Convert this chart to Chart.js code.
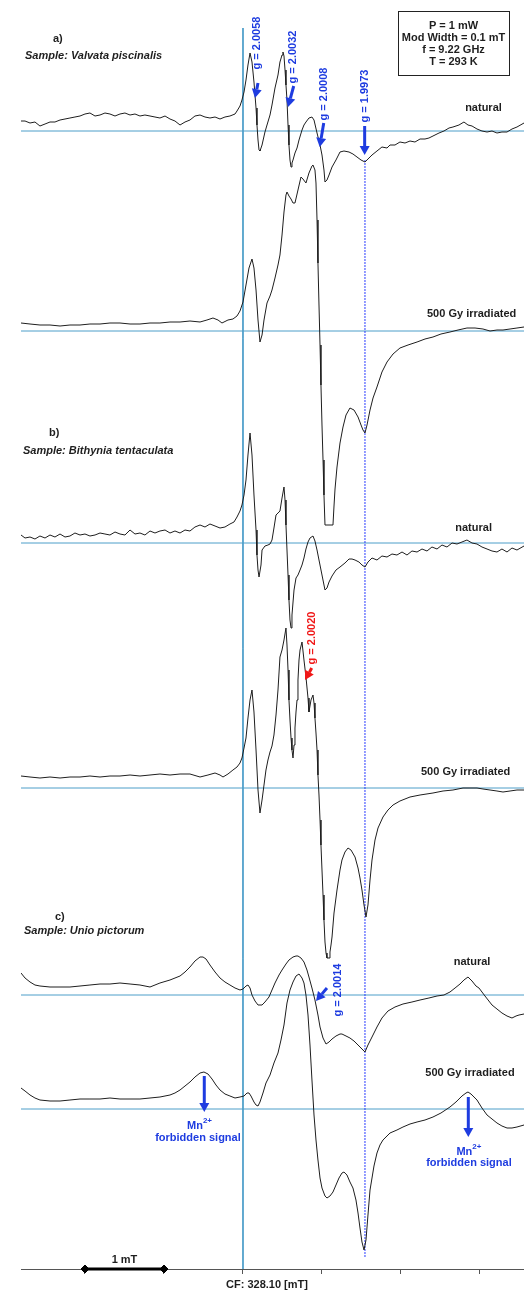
<!DOCTYPE html>
<html>
<head>
<meta charset="utf-8">
<title>EPR spectra</title>
<script src="https://cdn.jsdelivr.net/npm/chart.js@4/dist/chart.umd.min.js"></script>
<style>
  html, body { margin: 0; padding: 0; background: #fff; }
  canvas { display: block; }
</style>
</head>
<body>
<canvas id="epr" width="524" height="1291"></canvas>
<script>
// ---- axis ----
const fieldMin = 325.29, fieldMax = 331.657;
const centerField = 328.10;
const tickFields = [326.10, 327.10, 328.10, 329.10, 330.10, 331.10];
const scaleBarFields = [326.10, 327.10];
const markerField = 329.644; // g = 1.9973 dotted line

// ---- spectra: [field mT, signal a.u.] ----
const aNatural = [[325.290,10],[325.341,10],[325.404,8],[325.467,9],[325.530,5],[325.594,7],[325.657,9],[325.720,9],[325.784,11],[325.847,12],[325.910,13],[325.973,14],[326.037,15],[326.100,17],[326.163,18],[326.227,15],[326.290,16],[326.353,18],[326.416,17],[326.480,15],[326.543,17],[326.606,18],[326.670,16],[326.733,17],[326.796,15],[326.859,16],[326.923,15],[326.986,14],[327.049,13],[327.113,15],[327.176,12],[327.239,10],[327.303,6],[327.366,9],[327.429,11],[327.492,15],[327.556,16],[327.619,14],[327.682,13],[327.746,14],[327.809,12],[327.872,14],[327.935,15],[327.999,17],[328.024,20],[328.062,25],[328.087,31],[328.113,39],[328.138,51],[328.163,66],[328.189,78],[328.214,69],[328.239,49],[328.265,23],[328.277,6],[328.290,-9],[328.303,-19],[328.315,-20],[328.341,-14],[328.378,-1],[328.404,6],[328.442,16],[328.467,26],[328.505,43],[328.543,56],[328.568,69],[328.594,76],[328.606,79],[328.619,75],[328.632,61],[328.644,46],[328.657,31],[328.670,6],[328.682,-14],[328.695,-29],[328.708,-36],[328.720,-32],[328.733,-29],[328.758,-22],[328.784,-17],[328.809,-9],[328.847,1],[328.872,6],[328.897,9],[328.935,13],[328.973,14],[328.999,11],[329.037,-2],[329.075,-14],[329.100,-24],[329.125,-39],[329.138,-51],[329.163,-49],[329.189,-44],[329.227,-36],[329.277,-29],[329.328,-21],[329.378,-20],[329.442,-21],[329.492,-23],[329.543,-26],[329.594,-29],[329.644,-31],[329.682,-28],[329.733,-24],[329.796,-20],[329.859,-16],[329.923,-17],[329.961,-14],[330.024,-14],[330.087,-11],[330.151,-12],[330.214,-10],[330.277,-11],[330.341,-8],[330.404,-8],[330.454,-7],[330.505,-5],[330.581,-2],[330.644,0],[330.708,3],[330.758,4],[330.834,6],[330.897,9],[330.948,6],[330.999,5],[331.062,2],[331.125,0],[331.189,-1],[331.252,0],[331.315,-2],[331.378,-1],[331.442,-1],[331.505,2],[331.568,4],[331.657,8]];

const aIrradiated = [[325.290,8],[325.404,7],[325.530,6],[325.657,6],[325.784,5],[325.910,6],[326.037,6],[326.163,7],[326.290,7],[326.416,8],[326.543,8],[326.670,7],[326.796,7],[326.923,8],[327.049,8],[327.176,9],[327.303,9],[327.429,10],[327.556,9],[327.644,11],[327.720,13],[327.784,11],[327.834,8],[327.910,11],[327.973,12],[328.024,15],[328.062,20],[328.100,29],[328.138,46],[328.176,63],[328.214,72],[328.239,63],[328.265,41],[328.290,11],[328.315,-11],[328.341,-4],[328.366,11],[328.404,28],[328.442,35],[328.467,41],[328.505,53],[328.543,66],[328.568,76],[328.594,96],[328.619,119],[328.644,136],[328.657,139],[328.682,135],[328.708,132],[328.733,128],[328.758,128],[328.796,141],[328.834,154],[328.859,152],[328.897,148],[328.935,158],[328.973,165],[328.986,166],[329.011,161],[329.024,148],[329.037,111],[329.049,68],[329.062,26],[329.075,-14],[329.087,-54],[329.100,-94],[329.113,-129],[329.125,-164],[329.138,-194],[329.239,-194],[329.252,-175],[329.265,-158],[329.290,-136],[329.328,-112],[329.366,-96],[329.404,-84],[329.454,-77],[329.505,-79],[329.556,-86],[329.594,-94],[329.619,-99],[329.644,-102],[329.670,-94],[329.708,-79],[329.746,-67],[329.796,-56],[329.859,-41],[329.923,-31],[329.999,-23],[330.087,-17],[330.189,-14],[330.303,-11],[330.404,-8],[330.505,-6],[330.606,-3],[330.720,-1],[330.822,1],[330.935,3],[331.037,3],[331.138,2],[331.227,0],[331.315,1],[331.391,1],[331.480,2],[331.568,3],[331.657,4]];

const bNatural = [[325.290,8],[325.341,5],[325.404,6],[325.467,4],[325.530,7],[325.594,5],[325.657,8],[325.720,6],[325.784,9],[325.847,6],[325.910,7],[325.973,10],[326.037,8],[326.100,9],[326.163,7],[326.227,8],[326.290,10],[326.353,9],[326.416,8],[326.480,11],[326.543,9],[326.606,8],[326.670,13],[326.733,9],[326.796,10],[326.859,8],[326.923,12],[326.986,10],[327.049,12],[327.113,13],[327.176,10],[327.239,12],[327.303,10],[327.366,13],[327.429,12],[327.492,16],[327.556,18],[327.619,16],[327.682,19],[327.746,17],[327.809,15],[327.872,16],[327.935,19],[327.986,21],[328.024,26],[328.062,32],[328.087,38],[328.113,48],[328.138,63],[328.163,88],[328.189,110],[328.214,88],[328.239,48],[328.265,13],[328.277,-12],[328.290,-27],[328.303,-34],[328.328,-22],[328.341,-7],[328.378,-3],[328.416,-2],[328.442,-1],[328.467,3],[328.492,15],[328.518,28],[328.543,30],[328.568,32],[328.594,45],[328.619,56],[328.632,43],[328.644,18],[328.657,-7],[328.670,-32],[328.682,-57],[328.695,-77],[328.708,-85],[328.720,-72],[328.746,-47],[328.771,-35],[328.796,-32],[328.822,-27],[328.847,-22],[328.872,-15],[328.897,-6],[328.923,1],[328.948,5],[328.986,7],[329.011,2],[329.037,-7],[329.062,-17],[329.100,-32],[329.138,-47],[329.163,-45],[329.189,-39],[329.227,-33],[329.277,-27],[329.328,-24],[329.391,-20],[329.442,-16],[329.480,-16],[329.518,-17],[329.568,-19],[329.606,-22],[329.644,-24],[329.682,-19],[329.733,-15],[329.796,-17],[329.859,-13],[329.923,-14],[329.986,-11],[330.049,-12],[330.113,-9],[330.176,-12],[330.239,-8],[330.303,-9],[330.366,-6],[330.429,-8],[330.492,-4],[330.556,-6],[330.619,-2],[330.682,-4],[330.746,0],[330.809,-1],[330.872,1],[330.935,3],[330.999,0],[331.062,-1],[331.125,-4],[331.189,-6],[331.252,-8],[331.315,-9],[331.378,-6],[331.442,-9],[331.505,-5],[331.568,-7],[331.657,-3]];

const bIrradiated = [[325.290,12],[325.404,11],[325.530,10],[325.657,11],[325.784,10],[325.910,11],[326.037,11],[326.163,12],[326.290,11],[326.416,12],[326.543,12],[326.670,13],[326.796,12],[326.923,13],[327.049,14],[327.176,13],[327.303,14],[327.429,14],[327.556,11],[327.657,13],[327.746,15],[327.809,13],[327.847,11],[327.910,14],[327.973,18],[328.024,21],[328.062,25],[328.087,30],[328.113,40],[328.138,50],[328.163,70],[328.189,88],[328.214,98],[328.239,76],[328.265,38],[328.290,-2],[328.315,-25],[328.341,-12],[328.366,3],[328.391,18],[328.416,28],[328.442,36],[328.467,42],[328.492,53],[328.518,73],[328.543,98],[328.568,131],[328.594,138],[328.619,148],[328.644,160],[328.657,143],[328.670,118],[328.682,88],[328.695,68],[328.708,50],[328.720,38],[328.733,30],[328.746,43],[328.758,60],[328.771,76],[328.784,88],[328.796,108],[328.809,128],[328.822,138],[328.847,146],[328.872,128],[328.897,111],[328.923,90],[328.935,76],[328.961,88],[328.986,93],[328.999,85],[329.011,70],[329.024,55],[329.037,38],[329.049,13],[329.062,-7],[329.075,-32],[329.087,-57],[329.100,-82],[329.113,-107],[329.125,-132],[329.138,-154],[329.151,-165],[329.163,-170],[329.189,-170],[329.201,-164],[329.214,-157],[329.227,-149],[329.252,-125],[329.290,-102],[329.328,-82],[329.353,-72],[329.391,-64],[329.429,-60],[329.467,-62],[329.518,-69],[329.556,-80],[329.581,-90],[329.606,-102],[329.632,-117],[329.657,-129],[329.682,-117],[329.708,-92],[329.733,-72],[329.771,-52],[329.809,-40],[329.872,-29],[329.935,-22],[329.999,-17],[330.087,-13],[330.214,-9],[330.341,-7],[330.505,-5],[330.632,-3],[330.758,-2],[330.885,0],[330.973,0],[331.062,0],[331.138,-1],[331.227,-2],[331.315,-3],[331.391,-4],[331.480,-3],[331.568,-2],[331.657,-2]];

const cNatural = [[325.290,22],[325.341,17],[325.404,13],[325.467,10],[325.530,9],[325.657,8],[325.784,8],[325.910,8],[326.037,9],[326.163,10],[326.290,11],[326.416,11],[326.543,12],[326.670,11],[326.796,10],[326.923,8],[327.049,12],[327.176,15],[327.303,19],[327.366,23],[327.429,28],[327.492,34],[327.556,38],[327.594,38],[327.632,36],[327.682,30],[327.746,23],[327.809,17],[327.872,13],[327.935,10],[327.999,7],[328.062,5],[328.100,6],[328.138,9],[328.163,10],[328.189,7],[328.214,0],[328.252,-6],[328.290,-10],[328.341,-10],[328.378,-7],[328.429,-2],[328.467,5],[328.505,12],[328.556,20],[328.594,25],[328.644,31],[328.682,35],[328.733,38],[328.771,39],[328.796,39],[328.834,37],[328.872,33],[328.910,25],[328.935,18],[328.973,7],[329.011,-5],[329.049,-20],[329.075,-32],[329.113,-43],[329.151,-49],[329.189,-47],[329.227,-44],[329.277,-41],[329.328,-39],[329.353,-39],[329.404,-41],[329.454,-43],[329.505,-46],[329.556,-50],[329.606,-54],[329.644,-57],[329.682,-50],[329.733,-42],[329.796,-32],[329.859,-23],[329.935,-16],[330.024,-12],[330.125,-9],[330.239,-7],[330.341,-5],[330.454,-3],[330.556,-1],[330.644,0],[330.720,3],[330.784,7],[330.847,11],[330.897,15],[330.948,18],[330.999,14],[331.049,9],[331.087,7],[331.163,-1],[331.252,-10],[331.315,-14],[331.378,-18],[331.442,-21],[331.505,-23],[331.556,-21],[331.594,-20],[331.657,-19]];

const cIrradiated = [[325.290,21],[325.341,18],[325.404,14],[325.467,11],[325.530,9],[325.657,8],[325.784,8],[325.910,9],[326.037,10],[326.163,10],[326.290,10],[326.416,11],[326.543,10],[326.670,10],[326.796,10],[326.923,11],[327.049,12],[327.176,14],[327.239,16],[327.303,19],[327.366,23],[327.429,27],[327.492,32],[327.556,36],[327.606,37],[327.657,35],[327.708,30],[327.758,24],[327.809,19],[327.872,15],[327.935,13],[327.999,11],[328.062,12],[328.113,13],[328.151,16],[328.176,16],[328.201,13],[328.239,7],[328.265,4],[328.290,3],[328.315,7],[328.353,16],[328.391,26],[328.442,34],[328.492,46],[328.543,56],[328.581,69],[328.619,84],[328.657,106],[328.695,119],[328.733,127],[328.771,133],[328.809,135],[328.847,131],[328.872,126],[328.897,114],[328.923,94],[328.948,64],[328.973,29],[328.999,-6],[329.024,-31],[329.049,-51],[329.075,-69],[329.100,-79],[329.138,-87],[329.163,-89],[329.201,-87],[329.239,-83],[329.277,-76],[329.315,-69],[329.353,-64],[329.378,-63],[329.416,-66],[329.454,-73],[329.492,-79],[329.530,-91],[329.556,-104],[329.581,-119],[329.606,-133],[329.632,-141],[329.657,-131],[329.682,-106],[329.708,-81],[329.733,-69],[329.758,-57],[329.796,-44],[329.834,-36],[329.872,-31],[329.961,-24],[330.049,-21],[330.125,-18],[330.214,-15],[330.303,-13],[330.404,-11],[330.505,-8],[330.606,-4],[330.720,2],[330.796,7],[330.872,13],[330.923,16],[330.948,17],[330.986,15],[331.024,12],[331.062,9],[331.125,1],[331.189,-6],[331.252,-10],[331.315,-14],[331.378,-17],[331.442,-19],[331.505,-19],[331.568,-18],[331.657,-16]];

// vertical stacking of the six spectra (baseline of each, a.u.)
const traces = [aNatural, aIrradiated, bNatural, bIrradiated, cNatural, cIrradiated];
const traceOffsets = [1138, 938, 726, 481, 274, 160];
const yMax = 1269;

// ---- styling ----
const INK = '#1e1e1e', TEAL = '#4d9ec9', BLUE = '#1e3ce0', RED = '#f01818';
const FONT = 'Arial, "Liberation Sans", sans-serif';

const datasets = [];
traces.forEach((tr, i) => {
  datasets.push({
    data: tr.map(([b, s]) => ({ x: b, y: traceOffsets[i] + s })),
    borderColor: INK, borderWidth: 1, pointRadius: 0, order: 0
  });
});
traceOffsets.forEach(off => {
  datasets.push({
    data: [{ x: fieldMin, y: off }, { x: fieldMax, y: off }],
    borderColor: TEAL, borderWidth: 1, pointRadius: 0, order: 2
  });
});
datasets.push({
  data: [{ x: centerField, y: 1241 }, { x: centerField, y: 0 }],
  borderColor: TEAL, borderWidth: 1, pointRadius: 0, order: 2
});
datasets.push({
  data: [{ x: markerField, y: 1109 }, { x: markerField, y: 11 }],
  borderColor: '#2a3cff', borderWidth: 1, borderDash: [2, 1], pointRadius: 0, order: 1
});
datasets.push({
  data: scaleBarFields.map(b => ({ x: b, y: 0 })),
  borderColor: '#000', backgroundColor: '#000', borderWidth: 3,
  pointStyle: 'rectRot', pointRadius: 4, pointBorderWidth: 1, clip: false, order: 0
});

// ---- annotations (field, a.u.) ----
const texts = [
  { t: 'a)', x: 325.695, y: 1230, align: 'left' },
  { t: 'Sample: Valvata piscinalis', x: 325.341, y: 1213, align: 'left', italic: true },
  { t: 'natural', x: 331.144, y: 1161 },
  { t: '500 Gy irradiated', x: 330.994, y: 955 },
  { t: 'b)', x: 325.644, y: 836, align: 'left' },
  { t: 'Sample: Bithynia tentaculata', x: 325.315, y: 818, align: 'left', italic: true },
  { t: 'natural', x: 331.019, y: 741 },
  { t: '500 Gy irradiated', x: 330.918, y: 497 },
  { t: 'c)', x: 325.720, y: 352, align: 'left' },
  { t: 'Sample: Unio pictorum', x: 325.328, y: 338, align: 'left', italic: true },
  { t: 'natural', x: 330.999, y: 307 },
  { t: '500 Gy irradiated', x: 330.973, y: 196 },
  { t: '1 mT', x: 326.60, y: 9 },
  { t: 'forbidden signal', x: 327.530, y: 131, color: BLUE },
  { t: 'forbidden signal', x: 330.960, y: 106, color: BLUE }
];
const ionLabels = [ { x: 327.550, y: 143 }, { x: 330.960, y: 117 } ];
const gLabels = [
  { t: 'g = 2.0058', x: 328.277, y: 1226, color: BLUE },
  { t: 'g = 2.0032', x: 328.733, y: 1212, color: BLUE },
  { t: 'g = 2.0008', x: 329.122, y: 1175, color: BLUE },
  { t: 'g = 1.9973', x: 329.640, y: 1173, color: BLUE },
  { t: 'g = 2.0020', x: 328.973, y: 631, color: RED },
  { t: 'g = 2.0014', x: 329.303, y: 279, color: BLUE }
];
const arrows = [
  { x1: 328.290, y1: 1186, x2: 328.252, y2: 1171, color: BLUE },
  { x1: 328.742, y1: 1183, x2: 328.670, y2: 1162, color: BLUE },
  { x1: 329.122, y1: 1146, x2: 329.071, y2: 1122, color: BLUE },
  { x1: 329.640, y1: 1143, x2: 329.640, y2: 1114, color: BLUE },
  { x1: 328.970, y1: 601, x2: 328.885, y2: 589, color: RED },
  { x1: 329.163, y1: 281, x2: 329.024, y2: 268, color: BLUE },
  { x1: 327.610, y1: 193, x2: 327.610, y2: 157, color: BLUE },
  { x1: 330.952, y1: 172, x2: 330.952, y2: 132, color: BLUE }
];
const infoBox = { x1: 330.062, x2: 331.467, y1: 1258, y2: 1194 };
const infoLines = [
  { t: 'P = 1 mW', y: 1243 }, { t: 'Mod Width = 0.1 mT', y: 1231 },
  { t: 'f = 9.22 GHz', y: 1219 }, { t: 'T = 293 K', y: 1207 }
];

const annotate = {
  id: 'annotate',
  afterDatasetsDraw(chart) {
    const { ctx, scales: { x, y } } = chart;
    const px = v => x.getPixelForValue(v), py = v => y.getPixelForValue(v);
    ctx.save();
    ctx.textBaseline = 'middle';
    texts.forEach(l => {
      ctx.font = (l.italic ? 'italic ' : '') + 'bold 11px ' + FONT;
      ctx.fillStyle = l.color || INK;
      ctx.textAlign = l.align || 'center';
      ctx.fillText(l.t, px(l.x), py(l.y));
    });
    ionLabels.forEach(l => {
      ctx.fillStyle = BLUE;
      ctx.font = 'bold 11px ' + FONT;
      const w1 = ctx.measureText('Mn').width;
      ctx.font = 'bold 8px ' + FONT;
      const w2 = ctx.measureText('2+').width;
      const left = px(l.x) - (w1 + w2) / 2;
      ctx.textAlign = 'left';
      ctx.font = 'bold 11px ' + FONT;
      ctx.fillText('Mn', left, py(l.y));
      ctx.font = 'bold 8px ' + FONT;
      ctx.fillText('2+', left + w1, py(l.y) - 5);
    });
    gLabels.forEach(l => {
      ctx.save();
      ctx.translate(px(l.x), py(l.y));
      ctx.rotate(-Math.PI / 2);
      ctx.font = 'bold 11px ' + FONT;
      ctx.fillStyle = l.color;
      ctx.textAlign = 'center';
      ctx.fillText(l.t, 0, 0);
      ctx.restore();
    });
    arrows.forEach(a => {
      const x1 = px(a.x1), y1 = py(a.y1), x2 = px(a.x2), y2 = py(a.y2);
      const ang = Math.atan2(y2 - y1, x2 - x1);
      const hl = 9, hw = 5;
      const bx = x2 - hl * Math.cos(ang), by = y2 - hl * Math.sin(ang);
      ctx.strokeStyle = a.color; ctx.fillStyle = a.color;
      ctx.lineWidth = 3;
      ctx.beginPath(); ctx.moveTo(x1, y1); ctx.lineTo(bx, by); ctx.stroke();
      ctx.beginPath();
      ctx.moveTo(x2, y2);
      ctx.lineTo(bx + hw * Math.sin(ang), by - hw * Math.cos(ang));
      ctx.lineTo(bx - hw * Math.sin(ang), by + hw * Math.cos(ang));
      ctx.closePath(); ctx.fill();
    });
    // info box
    const bx1 = px(infoBox.x1), bx2 = px(infoBox.x2), by1 = py(infoBox.y1), by2 = py(infoBox.y2);
    ctx.fillStyle = '#fff';
    ctx.fillRect(bx1, by1, bx2 - bx1, by2 - by1);
    ctx.strokeStyle = '#222'; ctx.lineWidth = 1;
    ctx.strokeRect(Math.round(bx1) + 0.5, Math.round(by1) + 0.5, Math.round(bx2 - bx1), Math.round(by2 - by1));
    ctx.fillStyle = INK; ctx.font = 'bold 11px ' + FONT; ctx.textAlign = 'center';
    infoLines.forEach(l => ctx.fillText(l.t, (bx1 + bx2) / 2, py(l.y)));
    ctx.restore();
  }
};

new Chart(document.getElementById('epr'), {
  type: 'line',
  data: { datasets },
  options: {
    responsive: false,
    animation: false,
    devicePixelRatio: 1,
    layout: { autoPadding: false, padding: { left: 21, right: 0, top: 0, bottom: 0 } },
    plugins: { legend: { display: false }, tooltip: { enabled: false } },
    elements: { line: { tension: 0 } },
    scales: {
      x: {
        type: 'linear', min: fieldMin, max: fieldMax,
        afterBuildTicks: axis => { axis.ticks = tickFields.map(v => ({ value: v })); },
        afterFit: axis => { axis.height = 22; },
        ticks: {
          autoSkip: false, maxRotation: 0, padding: 4, labelOffset: 24,
          color: INK, font: { family: FONT, size: 11, weight: 'bold' },
          callback: v => Math.abs(v - centerField) < 1e-6 ? 'CF: 328.10 [mT]' : ''
        },
        grid: { drawOnChartArea: false, tickLength: 5, color: '#555' },
        border: { color: '#555' }
      },
      y: { display: false, min: 0, max: yMax }
    }
  },
  plugins: [annotate]
});
</script>
</body>
</html>
